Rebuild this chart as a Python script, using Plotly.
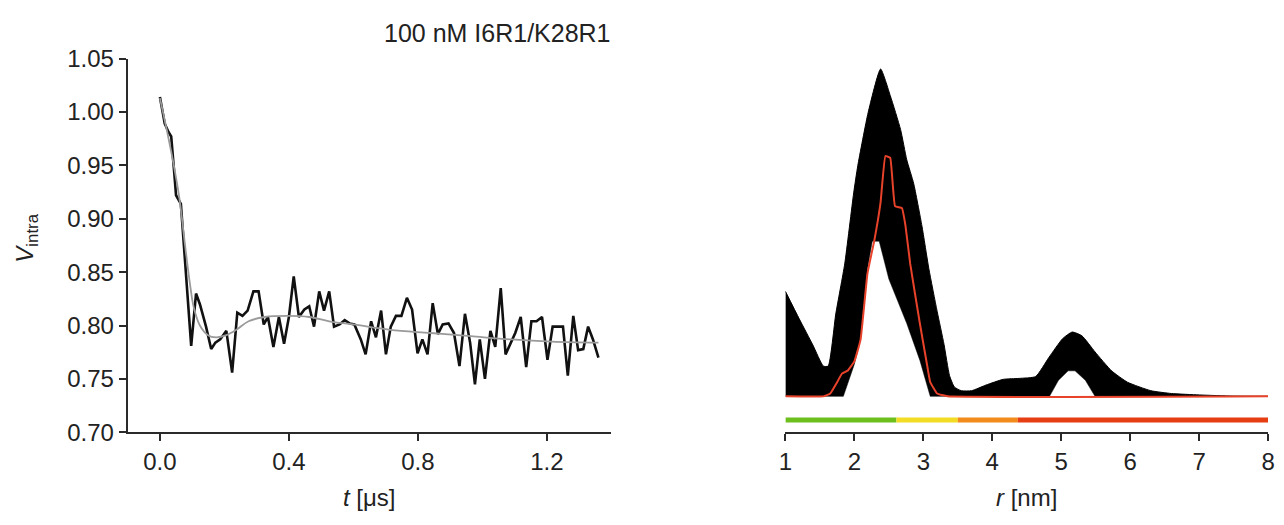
import plotly.graph_objects as go

# ---------------- Left panel: time trace ----------------
t_us = [0.000, 0.007, 0.015, 0.027, 0.035, 0.045, 0.050, 0.065, 0.080, 0.085,
        0.097, 0.112, 0.124, 0.143, 0.159, 0.172, 0.187, 0.206, 0.224, 0.240,
        0.256, 0.272, 0.290, 0.306, 0.322, 0.335, 0.352, 0.369, 0.385, 0.400,
        0.415, 0.431, 0.448, 0.463, 0.478, 0.494, 0.509, 0.525, 0.540, 0.557,
        0.573, 0.588, 0.603, 0.623, 0.638, 0.655, 0.670, 0.686, 0.701, 0.716,
        0.732, 0.749, 0.766, 0.782, 0.799, 0.814, 0.830, 0.846, 0.862, 0.877,
        0.895, 0.912, 0.929, 0.946, 0.962, 0.977, 0.992, 1.008, 1.025, 1.040,
        1.057, 1.072, 1.087, 1.102, 1.119, 1.136, 1.152, 1.168, 1.185, 1.202,
        1.218, 1.234, 1.250, 1.265, 1.282, 1.297, 1.313, 1.328, 1.343, 1.360]
v_intra = [1.014, 1.002, 0.989, 0.981, 0.977, 0.941, 0.922, 0.914, 0.855, 0.831,
           0.781, 0.830, 0.820, 0.799, 0.778, 0.784, 0.787, 0.795, 0.756, 0.812,
           0.809, 0.814, 0.832, 0.832, 0.801, 0.808, 0.780, 0.808, 0.783, 0.808,
           0.846, 0.808, 0.815, 0.818, 0.799, 0.832, 0.814, 0.832, 0.799, 0.801,
           0.805, 0.802, 0.801, 0.787, 0.773, 0.804, 0.789, 0.814, 0.773, 0.799,
           0.809, 0.809, 0.826, 0.815, 0.774, 0.787, 0.773, 0.821, 0.792, 0.801,
           0.802, 0.793, 0.762, 0.811, 0.784, 0.745, 0.787, 0.750, 0.795, 0.780,
           0.835, 0.773, 0.783, 0.793, 0.808, 0.761, 0.804, 0.804, 0.808, 0.768,
           0.799, 0.799, 0.799, 0.753, 0.809, 0.777, 0.778, 0.799, 0.787, 0.770]

fit_t = [0.000, 0.020, 0.040, 0.060, 0.080, 0.095, 0.105, 0.124, 0.149, 0.174,
         0.206, 0.237, 0.275, 0.325, 0.400, 0.463, 0.525, 0.600, 0.714, 0.839,
         0.964, 1.090, 1.215, 1.360]
fit_v = [1.013, 0.985, 0.955, 0.920, 0.870, 0.835, 0.817, 0.800, 0.791, 0.789,
         0.791, 0.796, 0.804, 0.808, 0.809, 0.808, 0.804, 0.801, 0.796, 0.793,
         0.790, 0.787, 0.785, 0.784]

y_ticks = [0.70, 0.75, 0.80, 0.85, 0.90, 0.95, 1.00, 1.05]
t_ticks = [0.0, 0.4, 0.8, 1.2]

# ---------------- Right panel: distance distribution ----------------
band_up_r = [1.00, 1.20, 1.40, 1.55, 1.62, 1.73, 1.86, 1.99, 2.05, 2.20,
             2.38, 2.52, 2.67, 2.76, 2.86, 2.98, 3.08, 3.20, 3.30, 3.38,
             3.45, 3.55, 3.70, 3.91, 4.16, 4.39, 4.63, 4.82, 5.02, 5.16,
             5.30, 5.49, 5.73, 5.96, 6.30, 6.60, 7.00, 7.50, 8.00]
band_up_p = [111, 82, 54, 32, 32, 87, 140, 215, 244, 300,
             346, 318, 282, 250, 225, 180, 135, 90, 55, 22,
             10, 6, 6, 12, 18, 19, 21, 41, 61, 68,
             64, 47, 27, 15, 6, 3, 1.5, 0.3, 0]

band_lo_r = [1.00, 1.84, 2.00, 2.09, 2.19, 2.26, 2.36, 2.43, 2.50, 2.76,
             2.95, 3.10, 4.83, 4.96, 5.10, 5.20, 5.35, 5.49, 8.00]
band_lo_p = [0, 0, 34, 61, 135, 164, 164, 144, 124, 77,
             38, 0, 0, 17, 27, 27, 17, 0, 0]

fit_r = [1.00, 1.55, 1.65, 1.75, 1.82, 1.90, 2.00, 2.09, 2.19, 2.29,
         2.38, 2.45, 2.52, 2.59, 2.69, 2.74, 2.81, 2.95, 3.05, 3.10,
         3.20, 3.35, 8.00]
fit_p = [0, 0, 3, 15, 24, 27, 37, 60, 130, 165,
         205, 254, 252, 201, 199, 181, 140, 77, 35, 15,
         3, 0, 0]

reliability_edges = [1.0, 2.61, 3.5, 4.37, 8.0]
reliability_colors = ["#6cbf1c", "#f3dc26", "#f28a1c", "#e63d12"]
r_ticks = [1, 2, 3, 4, 5, 6, 7, 8]

FONT = "Liberation Sans, Arial, sans-serif"
AX = "#2a2a2a"

fig = go.Figure()

fig.add_trace(go.Scatter(x=t_us, y=v_intra, mode="lines",
                         line=dict(color="#111111", width=2.6),
                         xaxis="x", yaxis="y", showlegend=False))
fig.add_trace(go.Scatter(x=fit_t, y=fit_v, mode="lines", line_shape="spline",
                         line=dict(color="#9a9a9a", width=1.8),
                         xaxis="x", yaxis="y", showlegend=False))

# band: lower then upper filled to lower
fig.add_trace(go.Scatter(x=band_lo_r, y=band_lo_p, mode="lines",
                         line=dict(color="black", width=0.5),
                         xaxis="x2", yaxis="y2", showlegend=False))
fig.add_trace(go.Scatter(x=band_up_r, y=band_up_p, mode="lines",
                         line=dict(color="black", width=1, shape="spline",
                                   smoothing=0.5),
                         fill="tonexty", fillcolor="black",
                         xaxis="x2", yaxis="y2", showlegend=False))
fig.add_trace(go.Scatter(x=fit_r, y=fit_p, mode="lines",
                         line=dict(color="#e8432a", width=2, shape="spline",
                                   smoothing=0.3),
                         xaxis="x2", yaxis="y2", showlegend=False))

for i, c in enumerate(reliability_colors):
    fig.add_trace(go.Scatter(x=[reliability_edges[i], reliability_edges[i + 1]],
                             y=[-25, -25], mode="lines",
                             line=dict(color=c, width=5),
                             xaxis="x2", yaxis="y2", showlegend=False))

axis_common = dict(showline=True, linecolor=AX, linewidth=2, ticks="outside",
                   ticklen=7, tickwidth=2, tickcolor=AX, showgrid=False,
                   zeroline=False, tickfont=dict(family=FONT, size=24, color="#222"))

fig.update_layout(
    width=1284, height=525,
    margin=dict(l=0, r=0, t=0, b=0),
    paper_bgcolor="white", plot_bgcolor="white",
    xaxis=dict(domain=[122 / 1284, 611 / 1284], range=[-0.1, 1.4],
               tickvals=t_ticks, tickformat=".1f", anchor="y", **axis_common),
    yaxis=dict(domain=[84 / 525, 478 / 525], range=[0.70, 1.05],
               tickvals=y_ticks, tickformat=".2f", anchor="x", **axis_common),
    xaxis2=dict(domain=[787 / 1284, 1275 / 1284], range=[1, 8],
                tickvals=r_ticks, anchor="y2", **axis_common),
    yaxis2=dict(domain=[84 / 525, 478 / 525], range=[-38, 357], visible=False,
                anchor="x2"),
    annotations=[
        dict(text="100 nM I6R1/K28R1", x=613 / 1284, y=1 - 20 / 525,
             xref="paper", yref="paper", xanchor="right", yanchor="middle",
             showarrow=False, font=dict(family=FONT, size=25, color="#222")),
        dict(text="<i>t</i> [μs]", x=366 / 1284, y=1 - 510 / 525,
             xref="paper", yref="paper", xanchor="center", yanchor="middle",
             showarrow=False, font=dict(family=FONT, size=24, color="#222")),
        dict(text="<i>r</i> [nm]", x=1031 / 1284, y=1 - 510 / 525,
             xref="paper", yref="paper", xanchor="center", yanchor="middle",
             showarrow=False, font=dict(family=FONT, size=24, color="#222")),
        dict(text="<i>V</i><sub>intra</sub>", x=20 / 1284, y=1 - 236 / 525,
             xref="paper", yref="paper", xanchor="center", yanchor="middle",
             textangle=-90, showarrow=False,
             font=dict(family=FONT, size=24, color="#222")),
    ],
)

fig.write_html("out.html", config={"displayModeBar": False},
               post_script="document.body.style.margin='0';"
                           "document.body.style.overflow='hidden';")
